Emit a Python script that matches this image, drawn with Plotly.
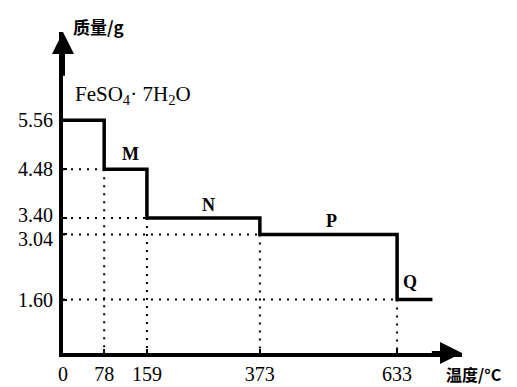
import plotly.graph_objects as go

# Data
temps = [0, 78, 159, 373, 633]          # °C, start of each plateau
masses = [5.56, 4.48, 3.40, 3.04, 1.60]  # g
end_temp = 700                           # end of the Q plateau
labels = ["FeSO<sub>4</sub>· 7H<sub>2</sub>O", "M", "N", "P", "Q"]
x_tick_labels = ["0", "78", "159", "373", "633"]
y_tick_labels = ["5.56", "4.48", "3.40", "3.04", "1.60"]
y_label_nudge = [0, 0, 3, -5, 0]   # px nudge so crowded labels don't collide

X_MAX = 756
Y_MIN, Y_MAX = 0.42, 7.51
SERIF = "Liberation Serif, Times New Roman, serif"
CJK = "Noto Sans CJK SC, sans-serif"

fig = go.Figure()

# dotted guide lines
for t, m in zip(temps[1:], masses[1:]):
    fig.add_trace(go.Scatter(x=[0, t], y=[m, m], mode="lines",
                             line=dict(color="black", width=2, dash="2px,6px"),
                             hoverinfo="skip", showlegend=False))
    fig.add_trace(go.Scatter(x=[t, t], y=[m, 0], mode="lines",
                             line=dict(color="black", width=2, dash="2px,6px"),
                             hoverinfo="skip", showlegend=False))

# step curve
fig.add_trace(go.Scatter(x=temps + [end_temp], y=masses + [masses[-1]],
                         mode="lines", line=dict(color="black", width=3.5, shape="hv"),
                         showlegend=False, cliponaxis=False))

# plateau labels
plateau_ends = temps[1:] + [end_temp]
label_dx = [0, 5, 5, 3, -5]
label_dy = [10, 3, 1, 1, 6]
for i, (lab, t0, t1, m) in enumerate(zip(labels, temps, plateau_ends, masses)):
    if i == 0:
        fig.add_annotation(x=t0, y=m, text=lab, showarrow=False, xanchor="left",
                           yanchor="bottom", xshift=10, yshift=label_dy[i],
                           font=dict(family=SERIF, size=21, color="black"))
    else:
        fig.add_annotation(x=(t0 + t1) / 2, y=m, text="<b>%s</b>" % lab, showarrow=False,
                           xanchor="center", yanchor="bottom",
                           xshift=label_dx[i], yshift=label_dy[i],
                           font=dict(family=SERIF, size=18, color="black"))

# y tick labels (as text next to the axis)
for m, lab, dy in zip(masses, y_tick_labels, y_label_nudge):
    fig.add_annotation(x=0, y=m, xref="x", yref="y", text=lab, showarrow=False,
                       xanchor="right", yanchor="middle", xshift=-8, yshift=dy,
                       font=dict(family=SERIF, size=20, color="black"))

# axis arrows
fig.add_annotation(x=0, y=Y_MAX, ax=0, ay=Y_MAX - 1, xref="x", yref="y", axref="x", ayref="y",
                   text="", showarrow=True, arrowhead=2, arrowsize=1.1, arrowwidth=4,
                   arrowcolor="black", standoff=0)
fig.add_annotation(x=X_MAX, y=Y_MIN, ax=X_MAX - 60, ay=Y_MIN, xref="x", yref="y", axref="x", ayref="y",
                   text="", showarrow=True, arrowhead=2, arrowsize=1.1, arrowwidth=4,
                   arrowcolor="black", standoff=0)

# axis titles
fig.add_annotation(x=0.09, y=1.016, xref="paper", yref="paper", text="<b>质量/g</b>",
                   showarrow=False, xanchor="center", yanchor="middle",
                   font=dict(family=CJK, size=17, color="black"))
fig.add_annotation(x=1.03, y=-0.065, xref="paper", yref="paper", text="<b>温度/°C</b>",
                   showarrow=False, xanchor="center", yanchor="middle",
                   font=dict(family=CJK, size=16, color="black"))

fig.update_xaxes(range=[0, X_MAX], tickvals=temps, ticktext=x_tick_labels, automargin=False,
                 showgrid=False, zeroline=False, showline=True, linecolor="black", linewidth=4,
                 ticks="inside", ticklen=4, tickwidth=2, tickcolor="black",
                 tickfont=dict(family=SERIF, size=20, color="black"))
fig.update_yaxes(range=[Y_MIN, Y_MAX], tickvals=masses, showticklabels=False, automargin=False,
                 showgrid=False, zeroline=False, showline=True, linecolor="black", linewidth=4,
                 ticks="inside", ticklen=4, tickwidth=2, tickcolor="black")

fig.update_layout(width=517, height=387, margin=dict(l=63, r=55, t=32, b=34),
                  plot_bgcolor="white", paper_bgcolor="white", showlegend=False)

fig.write_html("out.html", config={"displayModeBar": False},
               post_script="document.body.style.margin='0';document.body.style.padding='0';")
